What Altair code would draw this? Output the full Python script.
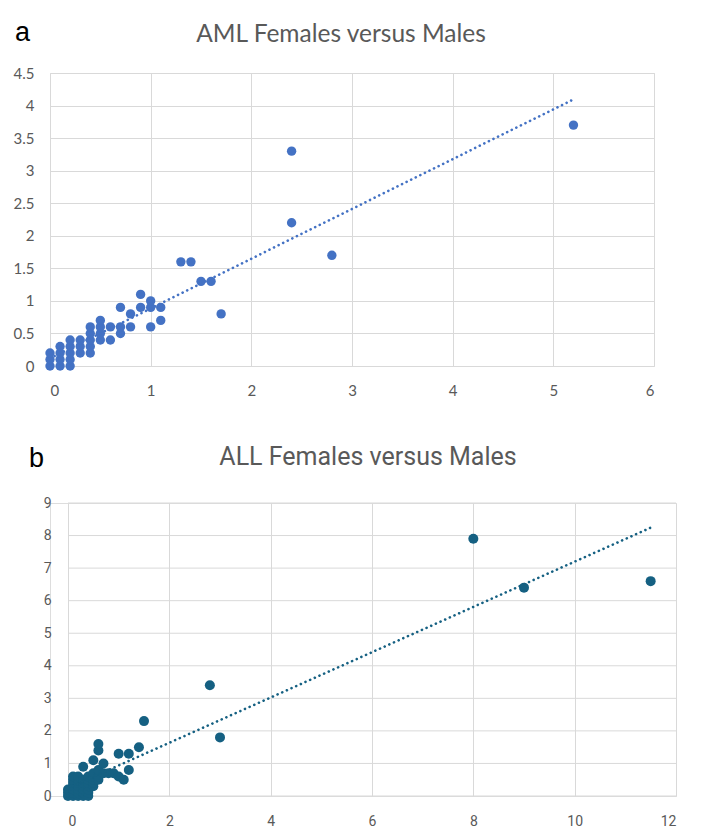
import altair as alt
import pandas as pd

# Panel a: AML rates, males (x) against females (y)
aml_male = [0, 0, 0, 0.1, 0.1, 0.1, 0.1, 0.2, 0.2, 0.2, 0.2, 0.2,
            0.3, 0.3, 0.3, 0.4, 0.4, 0.4, 0.4, 0.4, 0.5, 0.5, 0.5, 0.5,
            0.6, 0.6, 0.7, 0.7, 0.7, 0.8, 0.8, 0.9, 0.9, 1.0, 1.0, 1.0,
            1.1, 1.1, 1.3, 1.4, 1.5, 1.6, 1.7, 2.4, 2.4, 2.8, 5.2]
aml_female = [0, 0.1, 0.2, 0, 0.1, 0.2, 0.3, 0, 0.1, 0.2, 0.3, 0.4,
              0.2, 0.3, 0.4, 0.2, 0.3, 0.4, 0.5, 0.6, 0.4, 0.5, 0.6, 0.7,
              0.4, 0.6, 0.5, 0.6, 0.9, 0.6, 0.8, 0.9, 1.1, 0.6, 0.9, 1.0,
              0.7, 0.9, 1.6, 1.6, 1.3, 1.3, 0.8, 2.2, 3.3, 1.7, 3.7]

# Panel b: ALL rates, males (x) against females (y)
all_male = [0, 0, 0,
            0.1, 0.1, 0.1, 0.1, 0.1, 0.1, 0.1,
            0.2, 0.2, 0.2, 0.2, 0.2, 0.2, 0.2,
            0.3, 0.3, 0.3, 0.3, 0.3, 0.3,
            0.4, 0.4, 0.4, 0.4, 0.4, 0.4, 0.4,
            0.5, 0.5, 0.5, 0.5, 0.5,
            0.6, 0.6, 0.6, 0.7,
            0.3, 0.5, 0.6, 0.6, 0.7, 0.8, 0.9, 1.0, 1.1, 1.2,
            1.0, 1.2, 1.4, 1.5, 2.8, 3.0, 8.0, 9.0, 11.5]
all_female = [0, 0.1, 0.2,
              0, 0.1, 0.2, 0.3, 0.4, 0.5, 0.6,
              0, 0.1, 0.2, 0.3, 0.4, 0.5, 0.6,
              0, 0.1, 0.2, 0.3, 0.4, 0.5,
              0, 0.1, 0.2, 0.3, 0.4, 0.5, 0.6,
              0.3, 0.4, 0.5, 0.6, 0.7,
              0.5, 0.6, 0.8, 0.7,
              0.9, 1.1, 1.4, 1.6, 1.0, 0.7, 0.7, 0.6, 0.5, 0.8,
              1.3, 1.3, 1.5, 2.3, 3.4, 1.8, 7.9, 6.4, 6.6]

aml_ticks_x = [0, 1, 2, 3, 4, 5, 6]
aml_ticks_y = [0, 0.5, 1, 1.5, 2, 2.5, 3, 3.5, 4, 4.5]
all_ticks_x = [0, 2, 4, 6, 8, 10, 12]
all_ticks_y = [0, 1, 2, 3, 4, 5, 6, 7, 8, 9]

GRID = "#D9D9D9"
LABEL = "#595959"


def panel(male, female, letter, title, color, xt, yt, width, height,
          font, label_size, extent, letter_xy, title_xy, title_size,
          point_size, xpad, ypad, inset=0):
    """One scatter panel with a dotted linear trendline.

    `inset` pushes the plotting rectangle right inside the view, so the
    panel can sit further in than the one above it in the stack.
    """
    df = pd.DataFrame({"male": male, "female": female})
    xax = alt.Axis(values=xt, grid=True, gridColor=GRID, gridWidth=1,
                   domain=False, ticks=False, labelColor=LABEL,
                   labelFont=font, labelFontSize=label_size,
                   labelPadding=xpad, title=None, format="~g")
    yax = alt.Axis(values=yt, grid=(inset == 0), gridColor=GRID, gridWidth=1,
                   domain=False, ticks=False, labelColor=LABEL,
                   labelFont=font, labelFontSize=label_size,
                   labelPadding=ypad, title=None, format="~g",
                   offset=-inset, minExtent=extent, maxExtent=extent)
    xs = alt.Scale(domain=[xt[0], xt[-1]], nice=False, zero=True,
                   range=[inset, width])
    ys = alt.Scale(domain=[yt[0], yt[-1]], nice=False, zero=True)
    xenc = alt.X("male:Q", scale=xs, axis=xax)
    yenc = alt.Y("female:Q", scale=ys, axis=yax)

    layers = []
    if inset:
        # horizontal gridlines limited to the plotting rectangle
        layers.append(
            alt.Chart(pd.DataFrame({"female": yt})).mark_rule(
                color=GRID, strokeWidth=1
            ).encode(
                y=yenc,
                x=alt.X(datum=xt[0], scale=xs, axis=xax),
                x2=alt.datum(xt[-1]),
            )
        )

    base = alt.Chart(df)
    layers.append(
        base.mark_circle(size=point_size, opacity=1, color=color).encode(
            x=xenc, y=yenc
        )
    )
    layers.append(
        base.transform_regression(
            "male", "female", extent=[0, max(male)]
        ).mark_line(
            color=color, strokeWidth=2.6, strokeDash=[0.1, 5], strokeCap="round"
        ).encode(x=xenc, y=yenc)
    )
    layers.append(
        alt.Chart(pd.DataFrame({"t": [letter]})).mark_text(
            align="left", baseline="middle", fontSize=27,
            font="Liberation Sans", color="#000000"
        ).encode(text="t:N", x=alt.value(letter_xy[0]),
                 y=alt.value(letter_xy[1]))
    )
    layers.append(
        alt.Chart(pd.DataFrame({"t": [title]})).mark_text(
            align="center", baseline="middle", fontSize=title_size,
            font=font, color=LABEL
        ).encode(text="t:N", x=alt.value(title_xy[0]),
                 y=alt.value(title_xy[1]))
    )
    return alt.layer(*layers).properties(width=width, height=height)


top = panel(aml_male, aml_female, "a", "AML Females versus Males", "#4472C4",
            aml_ticks_x, aml_ticks_y, 604, 293, "Lato", 15, 44,
            (-35, -40), (291, -38), 24.5, 88, 17, 16)
bottom = panel(all_male, all_female, "b", "ALL Females versus Males", "#156082",
               all_ticks_x, all_ticks_y, 626, 293, "Roboto", 14, 30,
               (-21, -44), (318, -46), 25, 100, 18, 17, inset=18)

chart = alt.vconcat(top, bottom, spacing=45).properties(
    padding={"left": 5, "top": 18, "right": 5, "bottom": 5}
).configure_view(strokeWidth=0).configure(background="white")

chart.save("out.html", embed_options={"renderer": "svg", "actions": False})
